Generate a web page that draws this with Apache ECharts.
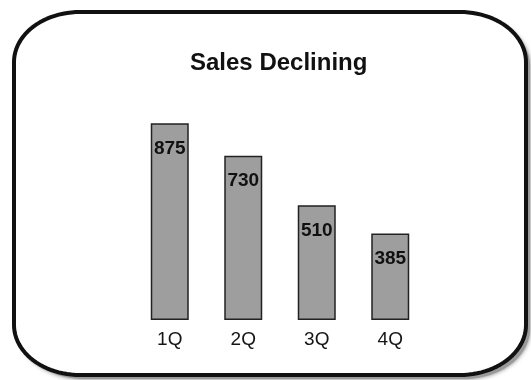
<!DOCTYPE html>
<html>
<head>
<meta charset="utf-8">
<style>
  html, body { margin: 0; padding: 0; background: #ffffff; }
  #chart { width: 531px; height: 380px; }
</style>
<script src="https://cdn.jsdelivr.net/npm/echarts@6/dist/echarts.min.js"></script>
</head>
<body>
<div id="chart"></div>
<script>
// Quarterly sales figures
const quarters = ['1Q', '2Q', '3Q', '4Q'];
const sales = [875, 730, 510, 385];
const titleText = 'Sales Declining';

const chart = echarts.init(document.getElementById('chart'), null, { renderer: 'canvas' });

// Outline of a rounded frame with elliptical corners, as polygon points
function framePoints(x0, y0, x1, y1, rx, ry) {
  const pts = [];
  const corners = [
    [x1 - rx, y0 + ry, -Math.PI / 2, 0],
    [x1 - rx, y1 - ry, 0, Math.PI / 2],
    [x0 + rx, y1 - ry, Math.PI / 2, Math.PI],
    [x0 + rx, y0 + ry, Math.PI, Math.PI * 1.5]
  ];
  const steps = 24;
  corners.forEach(([cx, cy, a0, a1]) => {
    for (let i = 0; i <= steps; i++) {
      const a = a0 + (a1 - a0) * i / steps;
      pts.push([cx + rx * Math.cos(a), cy + ry * Math.sin(a)]);
    }
  });
  return pts;
}

const font = '"Liberation Sans", Arial, Helvetica, sans-serif';
const frame = framePoints(14, 12, 526, 375, 66, 50);

chart.setOption({
  animation: false,
  backgroundColor: '#ffffff',
  title: {
    text: titleText,
    left: 185,
    top: 46,
    textStyle: { fontFamily: font, fontWeight: 'bold', fontSize: 24, color: '#111111' }
  },
  graphic: [
    // soft drop shadow to the lower right
    {
      type: 'polygon',
      z: -20,
      silent: true,
      position: [4, 4],
      shape: { points: frame },
      style: { fill: '#9a9a9a', shadowColor: 'rgba(110,110,110,0.9)', shadowBlur: 4 }
    },
    {
      type: 'polygon',
      z: -10,
      silent: true,
      shape: { points: frame },
      style: { fill: '#ffffff', stroke: '#111111', lineWidth: 4, lineJoin: 'round' }
    }
  ],
  grid: { left: 133, right: 104, top: 95, bottom: 60 },
  xAxis: {
    type: 'category',
    data: quarters,
    axisLine: { show: false },
    axisTick: { show: false },
    axisLabel: { fontFamily: font, fontSize: 19, color: '#151515', margin: 10 }
  },
  yAxis: {
    type: 'value',
    min: 0,
    max: 1000,
    show: false,
    splitLine: { show: false }
  },
  series: [
    {
      type: 'bar',
      data: sales,
      barWidth: 38,
      itemStyle: { color: '#9e9e9e', borderColor: '#222222', borderWidth: 1.5 },
      label: {
        show: true,
        position: 'insideTop',
        distance: 16,
        fontFamily: font,
        fontWeight: 'bold',
        fontSize: 19,
        color: '#111111'
      }
    }
  ]
});
</script>
</body>
</html>
